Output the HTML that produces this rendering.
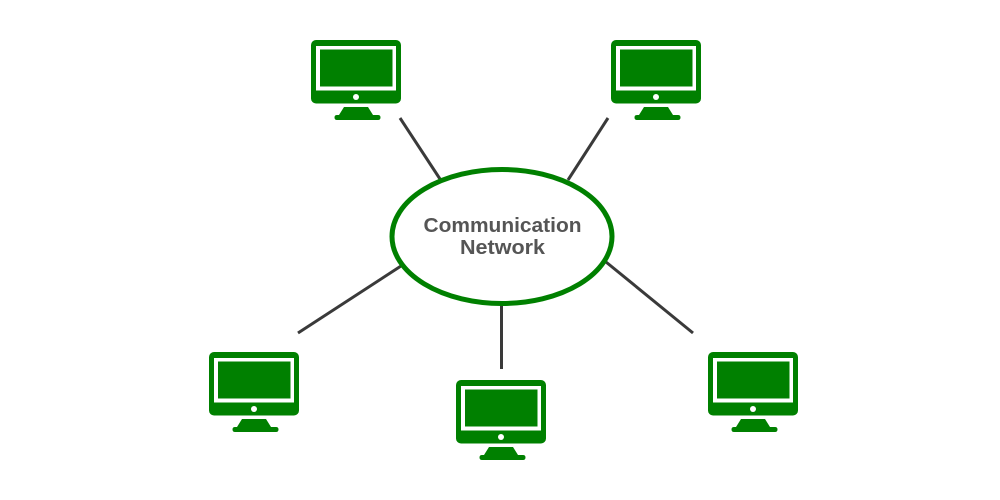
<!DOCTYPE html>
<html>
<head>
<meta charset="utf-8">
<style>
html,body{margin:0;padding:0;background:#fff;width:1000px;height:500px;overflow:hidden}
svg{display:block}
text{font-family:"Liberation Sans",sans-serif;font-weight:bold;font-size:20.5px;fill:#555;text-anchor:middle}
</style>
</head>
<body>
<svg width="1000" height="500" viewBox="0 0 1000 500" xmlns="http://www.w3.org/2000/svg">
<defs>
<g id="pc">
<rect x="0" y="0" width="90" height="63.5" rx="5" fill="#008000"/>
<rect x="5" y="6" width="80" height="44.5" fill="#fff"/>
<rect x="9" y="9.5" width="72.5" height="37" fill="#008000"/>
<circle cx="45" cy="57" r="3" fill="#fff"/>
<path d="M33 67H57L62 75H67Q69.500 75 69.500 77.500T67 80H26Q23.500 80 23.500 77.500T26 75H28Z" fill="#008000"/>
</g>
</defs>
<rect width="1000" height="500" fill="#fff"/>
<g stroke="#3a3a3a" stroke-width="3" fill="none">
<line x1="400" y1="118" x2="440" y2="179"/>
<line x1="608" y1="118" x2="568" y2="180"/>
<line x1="401" y1="266" x2="298" y2="333"/>
<line x1="501.500" y1="305" x2="501.500" y2="369"/>
<line x1="606" y1="262" x2="693" y2="333"/>
</g>
<ellipse cx="502" cy="236.500" rx="110" ry="67" fill="#fff" stroke="#008000" stroke-width="5"/>
<text x="502.500" y="232" textLength="158" lengthAdjust="spacingAndGlyphs">Communication</text>
<text x="502.500" y="254" textLength="85" lengthAdjust="spacingAndGlyphs">Network</text>
<use href="#pc" x="311" y="40"/>
<use href="#pc" x="611" y="40"/>
<use href="#pc" x="209" y="352"/>
<use href="#pc" x="456" y="380"/>
<use href="#pc" x="708" y="352"/>
</svg>
</body>
</html>
